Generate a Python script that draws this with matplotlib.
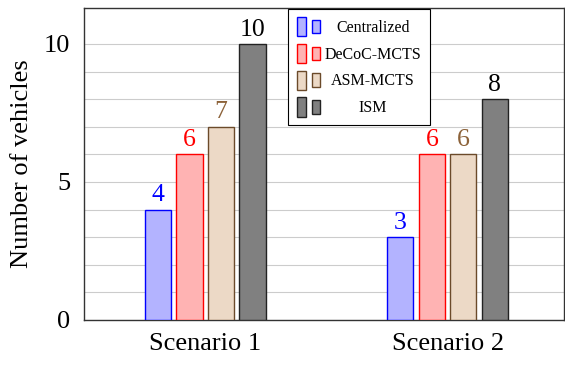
import numpy as np
import matplotlib
matplotlib.use('Agg')
import matplotlib.pyplot as plt
import matplotlib.patches as patches
from matplotlib.legend_handler import HandlerBase

plt.rcParams['font.family'] = ['Liberation Serif', 'DejaVu Serif']

scenarios = ['Scenario 1', 'Scenario 2']
methods = ['Centralized', 'DeCoC-MCTS', 'ASM-MCTS', 'ISM']
centralized = [4, 3]
decoc = [6, 6]
asm = [7, 6]
ism = [10, 8]

series = [centralized, decoc, asm, ism]
fills = [(0.7, 0.7, 1.0), (1.0, 0.7, 0.7), (0.925, 0.85, 0.775), (0.5, 0.5, 0.5)]
edges = ['#0000ff', '#ff0000', '#6b4a2a', '#222222']
text_colors = ['#0000ff', '#ff0000', '#8c6239', '#000000']


class TwoBars(HandlerBase):
    # pgfplots-style legend glyph: one tall bar and one short bar
    def create_artists(self, legend, orig_handle, xdescent, ydescent,
                       width, height, fontsize, trans):
        fc = orig_handle.get_facecolor()
        ec = orig_handle.get_edgecolor()
        x0, y0 = -xdescent, -ydescent
        r1 = patches.Rectangle((x0, y0 - height * 0.05), width * 0.38, height * 1.1,
                               facecolor=fc, edgecolor=ec, linewidth=1.0, transform=trans)
        r2 = patches.Rectangle((x0 + width * 0.64, y0 + height * 0.1), width * 0.36, height * 0.78,
                               facecolor=fc, edgecolor=ec, linewidth=1.0, transform=trans)
        return [r1, r2]


fig = plt.figure(figsize=(5.65, 3.66), dpi=100)
ax = fig.add_axes([84 / 565, 1 - 320 / 366, 480 / 565, 312 / 366])

x = np.arange(1, len(scenarios) + 1)
width = 0.108
step = 0.13
handles = []
for i, (vals, fc, ec, tc) in enumerate(zip(series, fills, edges, text_colors)):
    pos = x + (i - 1.5) * step
    ax.bar(pos, vals, width, color=fc, edgecolor=ec, linewidth=1.0, zorder=3)
    for p, v in zip(pos, vals):
        ax.text(p, v + 0.12, str(v), ha='center', va='bottom', color=tc, fontsize=18.5)
    handles.append(patches.Rectangle((0, 0), 1, 1, facecolor=fc, edgecolor=ec))

ax.set_xlim(0.5, 2.48)
ax.set_ylim(0, 11.3)
ax.set_yticks([0, 5, 10])
ax.set_yticks(np.arange(0, 11), minor=True)
ax.yaxis.grid(True, which='both', color='#cccccc', linewidth=0.8, zorder=0)
ax.set_xticks(x)
ax.set_xticklabels(scenarios, fontsize=19)
ax.tick_params(axis='both', which='both', length=0, labelsize=19)
ax.tick_params(axis='x', pad=9)
ax.tick_params(axis='y', pad=10)
ax.set_ylabel('Number of vehicles', fontsize=19, labelpad=8)
for s in ax.spines.values():
    s.set_color('#333333')
    s.set_linewidth(1.0)

leg = ax.legend(handles, methods, handler_map={patches.Rectangle: TwoBars()},
                loc='upper left', bbox_to_anchor=(204 / 480, 0.997), borderaxespad=0,
                fontsize=11.5, fancybox=False, edgecolor='black', framealpha=1,
                handlelength=1.45, handleheight=1.3, labelspacing=0.55, borderpad=0.55,
                handletextpad=0.3)
leg.get_frame().set_linewidth(0.8)

# centre the legend labels like pgfplots does
fig.canvas.draw()
boxes = [t.get_window_extent() for t in leg.get_texts()]
left = min(b.x0 for b in boxes)
right = max(b.x1 for b in boxes)
cx = (left + right) / 2
for t, b in zip(leg.get_texts(), boxes):
    fx, fy = fig.transFigure.inverted().transform((cx, (b.y0 + b.y1) / 2))
    fig.text(fx, fy, t.get_text(), ha='center', va='center', fontsize=11.5, zorder=10)
    t.set_alpha(0)

plt.savefig('out.png', dpi=100)
